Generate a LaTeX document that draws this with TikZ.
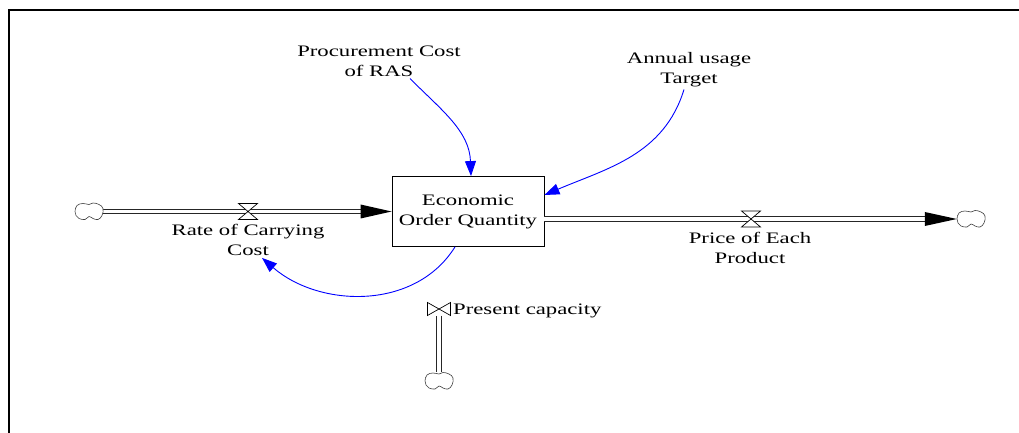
\documentclass[tikz,border=0pt]{standalone}
\usepackage{fontspec}
\setmainfont{Liberation Serif}[FakeStretch=1.42]
\usetikzlibrary{arrows.meta}
\tikzset{
  lbl/.style={align=center, inner sep=2pt, font=\fontsize{16}{20}\selectfont},
  stockbox/.style={draw, line width=0.8pt, minimum width=152pt, minimum height=70pt, align=center, inner sep=0pt, font=\fontsize{16}{20}\selectfont},
  pipe/.style={draw=black!85, line width=0.9pt, double=white, double distance=3.6pt},
  info/.style={draw=blue, line width=0.9pt, -{Triangle[length=15pt,width=11pt]}, fill=none},
  cloudnode/.style={minimum width=28pt, minimum height=17pt, inner sep=0pt},
  valvenode/.style={minimum width=19pt, minimum height=16pt, inner sep=0pt},
  cloudpic/.pic={\draw[black!75, line width=0.6pt, fill=white] plot[smooth cycle, tension=0.7] coordinates {(-14,0) (-12,6) (-6,8) (0,7) (4,8.5) (10,7) (14,3) (13,-4) (9,-8) (4,-7) (0,-5) (-4,-8) (-10,-7) (-13,-4)};},
  hvalvepic/.pic={\draw[line width=0.7pt, fill=white] (-9.5,8) -- (9.5,8) -- (-9.5,-8) -- (9.5,-8) -- cycle;},
  bvalvepic/.pic={\draw[line width=0.7pt, fill=white] (-11.5,6.5) -- (-11.5,-6.5) -- (11.5,6.5) -- (11.5,-6.5) -- cycle;}
}
\begin{document}
\begin{tikzpicture}[x=1pt, y=1pt]
\useasboundingbox (0,0) rectangle (1019,433);
% frame
\draw[line width=2pt] (9,0) -- (9,423) -- (1019,423);

% stock
\node[stockbox] (eoq) at (468,221.5) {Economic\\Order Quantity};

% clouds
\node[cloudnode] (cL) at (89,221.5) {};
\node[cloudnode] (cR) at (971,214) {};
\node[cloudnode] (cB) at (439,52) {};

% valves
\node[valvenode] (vL) at (248,221.5) {};
\node[valvenode] (vR) at (751,214) {};
\node[valvenode, minimum width=23pt, minimum height=13pt] (vB) at (439,124) {};

% pipes
\draw[pipe] (cL.east) -- ([xshift=-30pt]eoq.west);
\fill ([xshift=-31pt,yshift=7pt]eoq.west) -- (eoq.west) -- ([xshift=-31pt,yshift=-7pt]eoq.west) -- cycle;
\draw[pipe] (eoq.east |- cR) -- ([xshift=-31pt]cR.west);
\fill ([xshift=-32pt,yshift=7pt]cR.west) -- (cR.west) -- ([xshift=-32pt,yshift=-7pt]cR.west) -- cycle;
\draw[pipe] (vB.south) -- (cB.north);

\path (cL) pic {cloudpic};
\path (cR) pic {cloudpic};
\path (cB) pic {cloudpic};
\path (vL) pic {hvalvepic};
\path (vR) pic {hvalvepic};
\path (vB) pic {bvalvepic};

% labels
\node[lbl] (rate) at (248,193) {Rate of Carrying\\Cost};
\node[lbl] (price) at (750,185) {Price of Each\\Product};
\node[lbl] (proc) at (379,372) {Procurement Cost\\of RAS};
\node[lbl] (annual) at (689,363) {Annual usage\\Target};
\node[lbl, anchor=west, inner sep=0pt] (pres) at (453,122) {Present capacity};

% information links
\draw[info] ([xshift=31pt]proc.south) to[out=-45, in=92] ([xshift=3pt]eoq.north);
\draw[info] ([xshift=-5pt]annual.south) to[out=-107, in=23] ([yshift=16.5pt]eoq.east);
\draw[info] ([xshift=-13pt]eoq.south) to[out=-122, in=-41] ([xshift=14pt]rate.south);
\end{tikzpicture}
\end{document}
